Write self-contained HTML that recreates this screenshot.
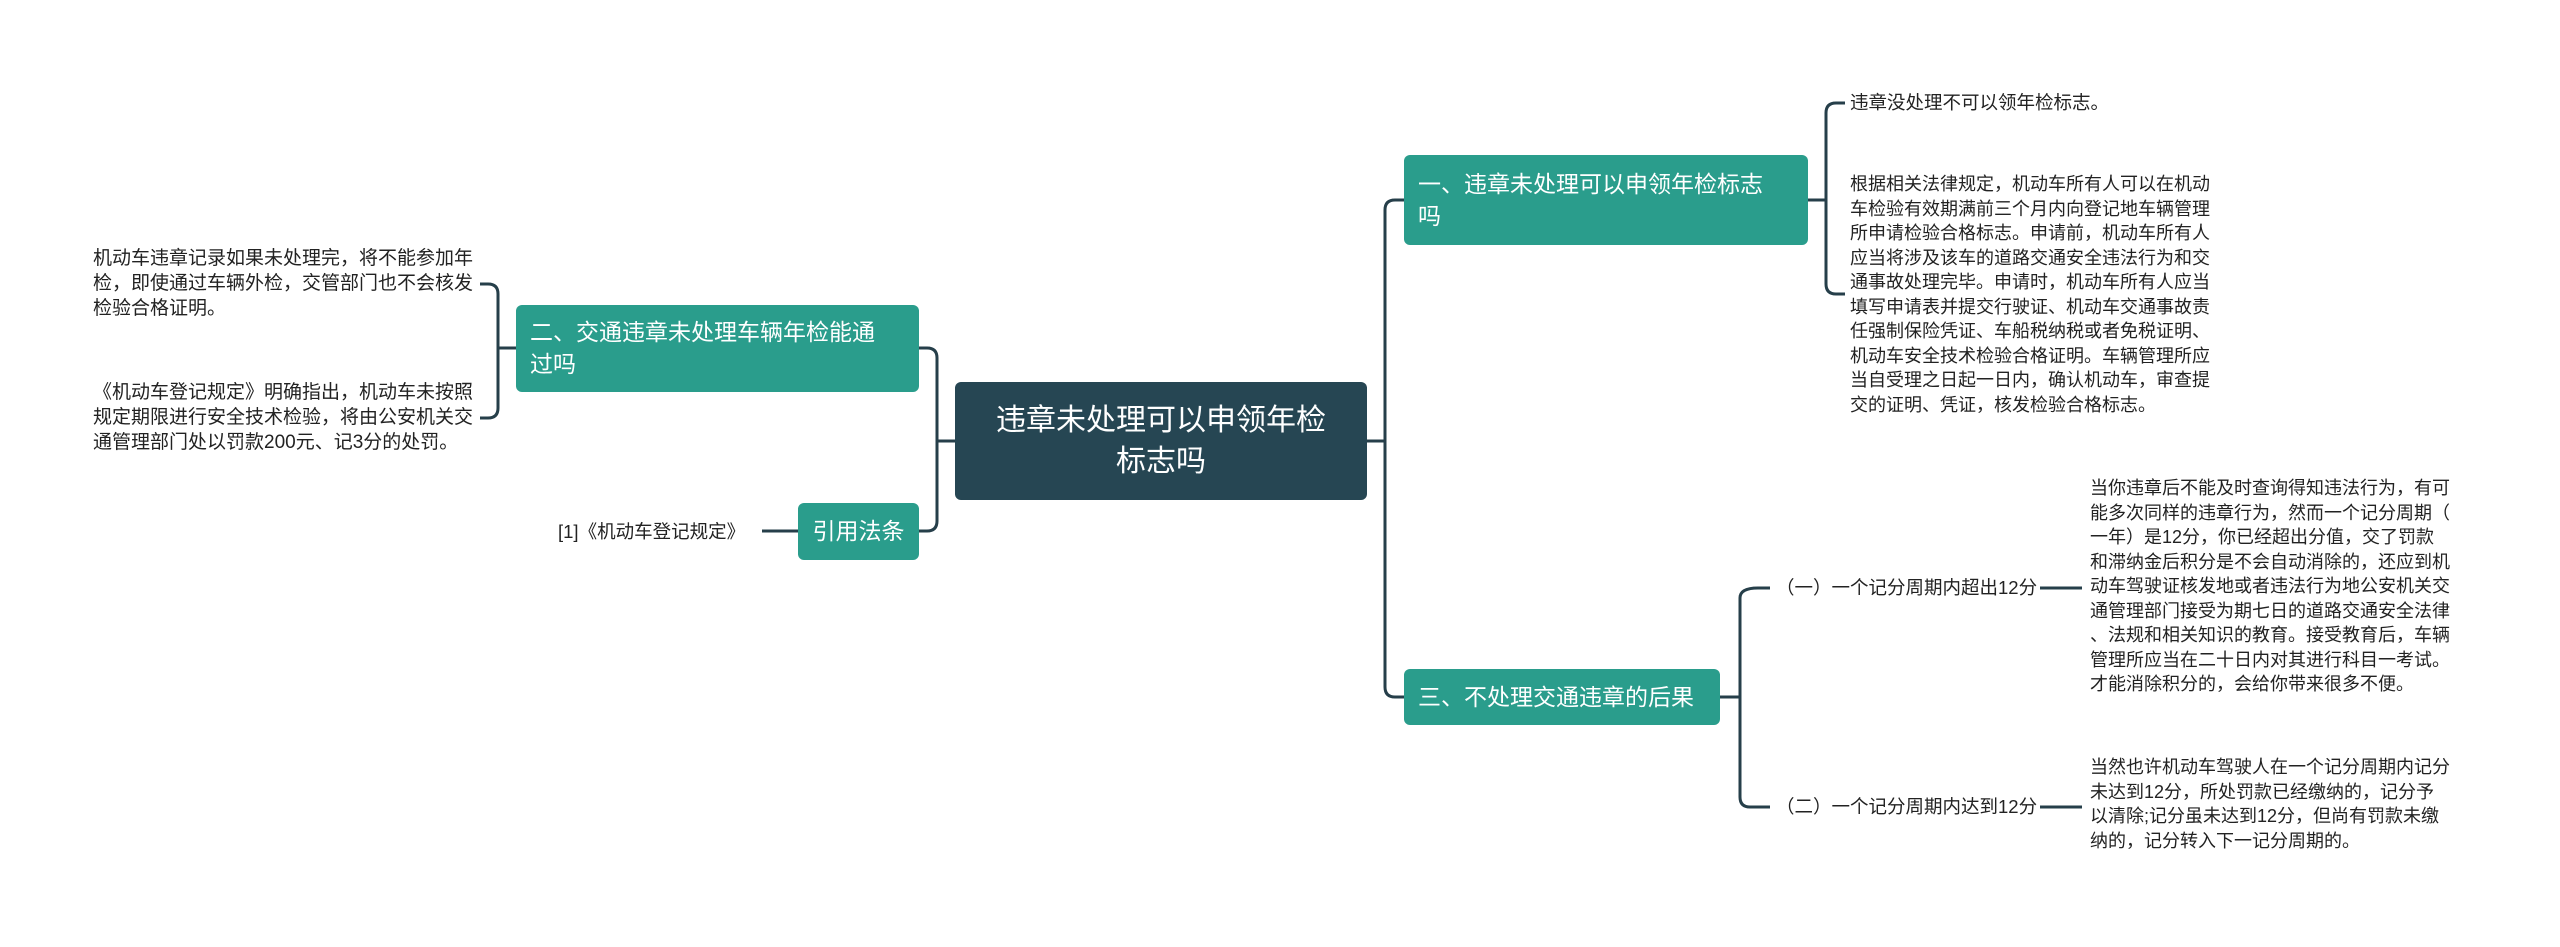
<!DOCTYPE html>
<html><head><meta charset="utf-8"><style>
body{margin:0;width:2560px;height:947px;background:#fff;position:relative;overflow:hidden;font-family:"Liberation Sans","Noto Sans CJK SC",sans-serif}
.n{position:absolute;box-sizing:border-box;color:#fff;border-radius:6px}
.g{background:#2a9d8c;font-size:23px;line-height:32px;padding:0 14px}
.t{position:absolute;color:#222;font-size:18.5px;line-height:25px;white-space:nowrap}
</style></head><body>
<svg width="2560" height="947" style="position:absolute;left:0;top:0" fill="none" stroke="#263f4a" stroke-width="3">
<path d="M1367 441H1385"/>
<path d="M1404 200H1395Q1385 200 1385 210V687Q1385 697 1395 697H1404"/>
<path d="M955 441H937"/>
<path d="M919 348H927Q937 348 937 358V521Q937 531 927 531H919"/>
<path d="M1808 200H1826"/>
<path d="M1845 103H1836Q1826 103 1826 113V284Q1826 294 1836 294H1845"/>
<path d="M516 348H498"/>
<path d="M480 284H488Q498 284 498 294V408Q498 418 488 418H480"/>
<path d="M798 531H762"/>
<path d="M1720 697H1740"/>
<path d="M1770 588H1758Q1740 588 1740 598V797Q1740 807 1750 807H1770"/>
<path d="M2040 588H2082M2040 807H2082"/>
</svg>
<div class="n" style="left:955px;top:382px;width:412px;height:118px;background:#264653;font-size:30px;line-height:41px;text-align:center;padding-top:18px">违章未处理可以申领年检<br>标志吗</div>
<div class="n g" style="left:1404px;top:155px;width:404px;height:90px;padding-top:13px">一、违章未处理可以申领年检标志<br>吗</div>
<div class="n g" style="left:516px;top:305px;width:403px;height:87px;padding-top:11px">二、交通违章未处理车辆年检能通<br>过吗</div>
<div class="n g" style="left:798px;top:503px;width:121px;height:57px;padding:12px 0 0;text-align:center">引用法条</div>
<div class="n g" style="left:1404px;top:669px;width:316px;height:56px;padding-top:12px">三、不处理交通违章的后果</div>
<div class="t" style="left:1850px;top:90px">违章没处理不可以领年检标志。</div>
<div class="t" style="left:1850px;top:172px;line-height:24.5px;font-size:18px">根据相关法律规定，机动车所有人可以在机动<br>车检验有效期满前三个月内向登记地车辆管理<br>所申请检验合格标志。申请前，机动车所有人<br>应当将涉及该车的道路交通安全违法行为和交<br>通事故处理完毕。申请时，机动车所有人应当<br>填写申请表并提交行驶证、机动车交通事故责<br>任强制保险凭证、车船税纳税或者免税证明、<br>机动车安全技术检验合格证明。车辆管理所应<br>当自受理之日起一日内，确认机动车，审查提<br>交的证明、凭证，核发检验合格标志。</div>
<div class="t" style="left:93px;top:246px;font-size:19px">机动车违章记录如果未处理完，将不能参加年<br>检，即使通过车辆外检，交管部门也不会核发<br>检验合格证明。</div>
<div class="t" style="left:93px;top:380px;font-size:19px">《机动车登记规定》明确指出，机动车未按照<br>规定期限进行安全技术检验，将由公安机关交<br>通管理部门处以罚款200元、记3分的处罚。</div>
<div class="t" style="left:558px;top:519px">[1]《机动车登记规定》</div>
<div class="t" style="left:1776px;top:575px">（一）一个记分周期内超出12分</div>
<div class="t" style="left:1776px;top:794px">（二）一个记分周期内达到12分</div>
<div class="t" style="left:2090px;top:476px;line-height:24.5px;font-size:18px">当你违章后不能及时查询得知违法行为，有可<br>能多次同样的违章行为，然而一个记分周期（<br>一年）是12分，你已经超出分值，交了罚款<br>和滞纳金后积分是不会自动消除的，还应到机<br>动车驾驶证核发地或者违法行为地公安机关交<br>通管理部门接受为期七日的道路交通安全法律<br>、法规和相关知识的教育。接受教育后，车辆<br>管理所应当在二十日内对其进行科目一考试。<br>才能消除积分的，会给你带来很多不便。</div>
<div class="t" style="left:2090px;top:755px;line-height:24.5px;font-size:18px">当然也许机动车驾驶人在一个记分周期内记分<br>未达到12分，所处罚款已经缴纳的，记分予<br>以清除;记分虽未达到12分，但尚有罚款未缴<br>纳的，记分转入下一记分周期的。</div>
</body></html>
